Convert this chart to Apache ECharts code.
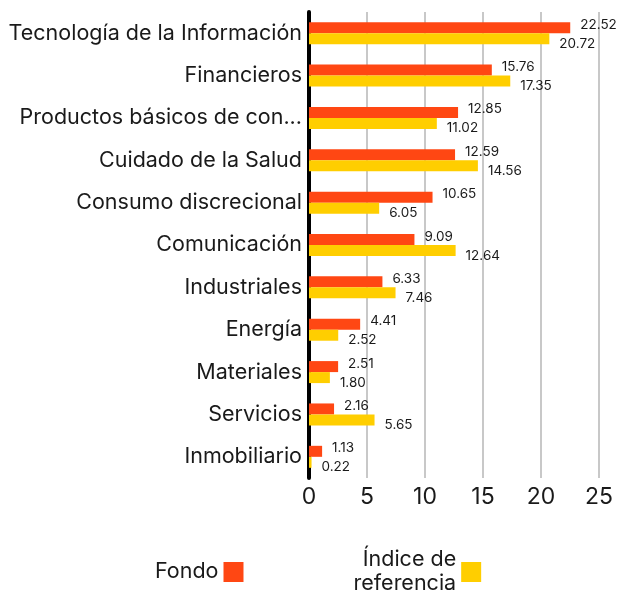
<!DOCTYPE html>
<html>
<head>
<meta charset="utf-8">
<script src="https://cdn.jsdelivr.net/npm/echarts@6/dist/echarts.min.js"></script>
<style>
  html, body { margin: 0; padding: 0; background: #fff; }
  #chart { width: 619px; height: 596px; }
</style>
</head>
<body>
<div id="chart"></div>
<script>
// sectores, de arriba a abajo (tal como aparecen en el eje)
var categories = ['Tecnología de la Información', 'Financieros', 'Productos básicos de con...',
    'Cuidado de la Salud', 'Consumo discrecional', 'Comunicación', 'Industriales',
    'Energía', 'Materiales', 'Servicios', 'Inmobiliario'];
var fondo = [22.52, 15.76, 12.85, 12.59, 10.65, 9.09, 6.33, 4.41, 2.51, 2.16, 1.13];
var indice = [20.72, 17.35, 11.02, 14.56, 6.05, 12.64, 7.46, 2.52, 1.80, 5.65, 0.22];
var seriesNames = ['Fondo', 'Índice de referencia'];

var fontFamily = 'Inter';
var myChart = echarts.init(document.getElementById('chart'));

var option = {
    textStyle: { fontFamily: fontFamily },
    legend: {
        left: 150,
        top: 540,
        align: 'right',
        itemWidth: 20,
        itemHeight: 20,
        itemGap: 110,
        icon: 'rect',
        data: seriesNames,
        formatter: function (name) {
            return name === 'Índice de referencia' ? 'Índice de\nreferencia' : name;
        },
        textStyle: {
            fontSize: 21.5,
            color: '#1a1a1a',
            lineHeight: 24,
            padding: [6, 0, 0, 0],
            fontFamily: fontFamily
        }
    },
    grid: { left: 309, right: 20, top: 12, bottom: 118, containLabel: false },
    xAxis: {
        type: 'value',
        min: 0,
        max: 25,
        interval: 5,
        axisLine: { show: false },
        axisTick: { show: false },
        axisLabel: { fontSize: 23, color: '#1a1a1a', margin: 8, fontFamily: fontFamily },
        splitLine: { lineStyle: { color: '#c8c8c8', width: 2 } }
    },
    yAxis: {
        type: 'category',
        inverse: true,
        data: categories,
        axisLine: { lineStyle: { color: '#000', width: 4 } },
        axisTick: { show: false },
        axisLabel: {
            fontSize: 21.5,
            color: '#1a1a1a',
            margin: 7,
            fontFamily: fontFamily
        }
    },
    series: [
        {
            name: 'Fondo',
            type: 'bar',
            data: fondo,
            barWidth: 11,
            barGap: '0%',
            itemStyle: { color: '#ff4713' },
            label: {
                show: true,
                position: 'right',
                distance: 10,
                offset: [0, -3],
                fontSize: 13.5,
                color: '#1a1a1a',
                formatter: function (p) { return p.value.toFixed(2); }
            }
        },
        {
            name: 'Índice de referencia',
            type: 'bar',
            data: indice,
            barWidth: 11,
            barGap: '0%',
            itemStyle: { color: '#ffce00' },
            label: {
                show: true,
                position: 'right',
                distance: 10,
                offset: [0, 5],
                fontSize: 13.5,
                color: '#1a1a1a',
                formatter: function (p) { return p.value.toFixed(2); }
            }
        }
    ]
};

myChart.setOption(option);
</script>
</body>
</html>
